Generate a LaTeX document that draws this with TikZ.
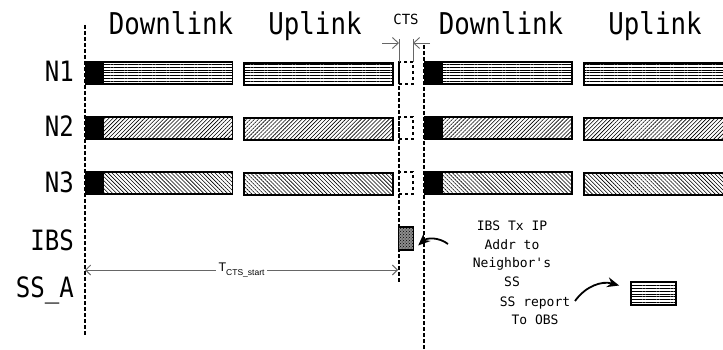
\documentclass[tikz,border=0pt]{standalone}
\usepackage{fontspec}
\setsansfont{Liberation Sans}
\newfontfamily\slotfont[FakeStretch=0.86]{DejaVu Sans Mono}
\newfontfamily\notefont{DejaVu Sans Mono}
\usetikzlibrary{arrows.meta, patterns, patterns.meta}

\begin{document}
\begin{tikzpicture}[
  x=1pt, y=-1pt,
  bar/.style={draw, line width=1.6pt, minimum height=22pt, inner sep=0pt, anchor=west},
  dlbar/.style={bar, minimum width=147pt},            % downlink subframe
  ulbar/.style={bar, minimum width=149pt},            % uplink subframe
  hlines/.style={pattern={Lines[angle=0, distance=2.8pt, line width=0.6pt]}},
  nelines/.style={pattern={Lines[angle=45, distance=2.8pt, line width=0.6pt]}},
  nwlines/.style={pattern={Lines[angle=-45, distance=2.8pt, line width=0.6pt]}},
  ctsbox/.style={draw, dashed, line width=1.2pt, minimum width=14pt,
                 minimum height=22pt, inner sep=0pt},
  timeline/.style={line width=1.3pt, dash pattern=on 4pt off 2pt},
  tick/.style={draw=black!60, line width=0.9pt},
  span/.style={draw=black!60, line width=0.9pt,
               {Straight Barb[length=5pt, width=10pt]}-{Straight Barb[length=5pt, width=10pt]}},
  onearrow/.style={draw=black!60, line width=0.9pt, -{Straight Barb[length=6pt, width=11pt]}},
  callout/.style={line width=1.8pt, -{Stealth[length=12pt, width=10pt]}},
  heading/.style={font=\slotfont\fontsize{30}{32}\selectfont, inner sep=0pt, anchor=base},
  rowlabel/.style={font=\slotfont\fontsize{28}{30}\selectfont, inner sep=0pt, anchor=base east},
  note/.style={font=\notefont\fontsize{13}{18.5}\selectfont, align=center, inner sep=0pt},
]
  \useasboundingbox (0,0) rectangle (723,350);
  \clip (0,0) rectangle (723,350);

  % ---- Headings ----
  \node[heading] (dl1) at (171,35) {Downlink};
  \node[heading] (ul1) at (315,35) {Uplink};
  \node[heading] (dl2) at (501,35) {Downlink};
  \node[heading] (ul2) at (655,35) {Uplink};
  \node[font=\notefont\fontsize{14}{15}\selectfont, inner sep=0pt, anchor=base] (cts) at (406,25) {CTS};

  % ---- Row labels ----
  \node[rowlabel] (n1) at (74,82)  {N1};
  \node[rowlabel] (n2) at (74,137) {N2};
  \node[rowlabel] (n3) at (74,192) {N3};
  \node[rowlabel] (ibs) at (74,250) {IBS};
  \node[rowlabel] (ssa) at (74,297) {SS\_A};

  % ---- Time lines ----
  \draw[timeline] (85,25) -- (85,335);                 % frame start
  \draw[timeline] (399,62) -- (399,282);               % CTS start
  \draw[timeline] (424,45) -- (424,350);               % next frame start

  % ---- N1 ----
  \node[dlbar, hlines] (n1dl1) at (85,73)  {};
  \node[ulbar, hlines] (n1ul1) at (243,74) {};
  \node[ctsbox] (n1cts) at (406,73) {};
  \node[dlbar, hlines] (n1dl2) at (424,73) {};
  \node[ulbar, hlines] (n1ul2) at (583,74) {};
  \fill (n1dl1.north west) rectangle ([xshift=19pt]n1dl1.south west);
  \fill (n1dl2.north west) rectangle ([xshift=19pt]n1dl2.south west);

  % ---- N2 ----
  \node[dlbar, nelines] (n2dl1) at (85,128)  {};
  \node[ulbar, nelines] (n2ul1) at (243,129) {};
  \node[ctsbox] (n2cts) at (406,128) {};
  \node[dlbar, nelines] (n2dl2) at (424,128) {};
  \node[ulbar, nelines] (n2ul2) at (583,129) {};
  \fill (n2dl1.north west) rectangle ([xshift=19pt]n2dl1.south west);
  \fill (n2dl2.north west) rectangle ([xshift=19pt]n2dl2.south west);

  % ---- N3 ----
  \node[dlbar, nwlines] (n3dl1) at (85,183)  {};
  \node[ulbar, nwlines] (n3ul1) at (243,184) {};
  \node[ctsbox] (n3cts) at (406,183) {};
  \node[dlbar, nwlines] (n3dl2) at (424,183) {};
  \node[ulbar, nwlines] (n3ul2) at (583,184) {};
  \fill (n3dl1.north west) rectangle ([xshift=19pt]n3dl1.south west);
  \fill (n3dl2.north west) rectangle ([xshift=19pt]n3dl2.south west);

  % ---- CTS window ----
  \draw[tick] (399,39) -- (399,62);
  \draw[tick] (413,39) -- (413,62);
  \coordinate (ctsl) at (382,43);
  \coordinate (ctsr) at (430,43);
  \draw[onearrow] (ctsl) -- (399,43);
  \draw[onearrow] (ctsr) -- (413,43);

  % ---- IBS transmission ----
  \node[draw, line width=1.4pt, minimum width=15pt, minimum height=23pt,
        inner sep=0pt, fill=black!45, postaction={pattern=crosshatch dots}] (ibsbox) at (406,238.5) {};
  \node[note] (ibsnote) at (512,254) {IBS Tx IP\\Addr to\\Neighbor's\\SS};
  \coordinate (ibstail) at (448,244);
  \draw[callout] (ibstail) to[bend right=40] ([xshift=4pt,yshift=-7pt]ibsbox.east);

  % ---- SS report ----
  \node[draw, line width=1.6pt, minimum width=45pt, minimum height=23pt,
        inner sep=0pt, hlines] (ssbox) at (653.5,293.5) {};
  \node[note] (reportnote) at (535,311) {SS report\\To OBS};
  \coordinate (reporttail) at (575,301);
  \draw[callout] (reporttail) to[bend left=35] ([xshift=-11pt,yshift=8pt]ssbox.west);

  % ---- T_CTS_start span ----
  \draw[span] (85,270) -- node[fill=white, inner sep=3pt, font=\sffamily\fontsize{12.5}{13}\selectfont]
    (tlabel) {T\raisebox{-4pt}{\fontsize{8.5}{9}\selectfont CTS\_start}} (398,270);
\end{tikzpicture}
\end{document}
